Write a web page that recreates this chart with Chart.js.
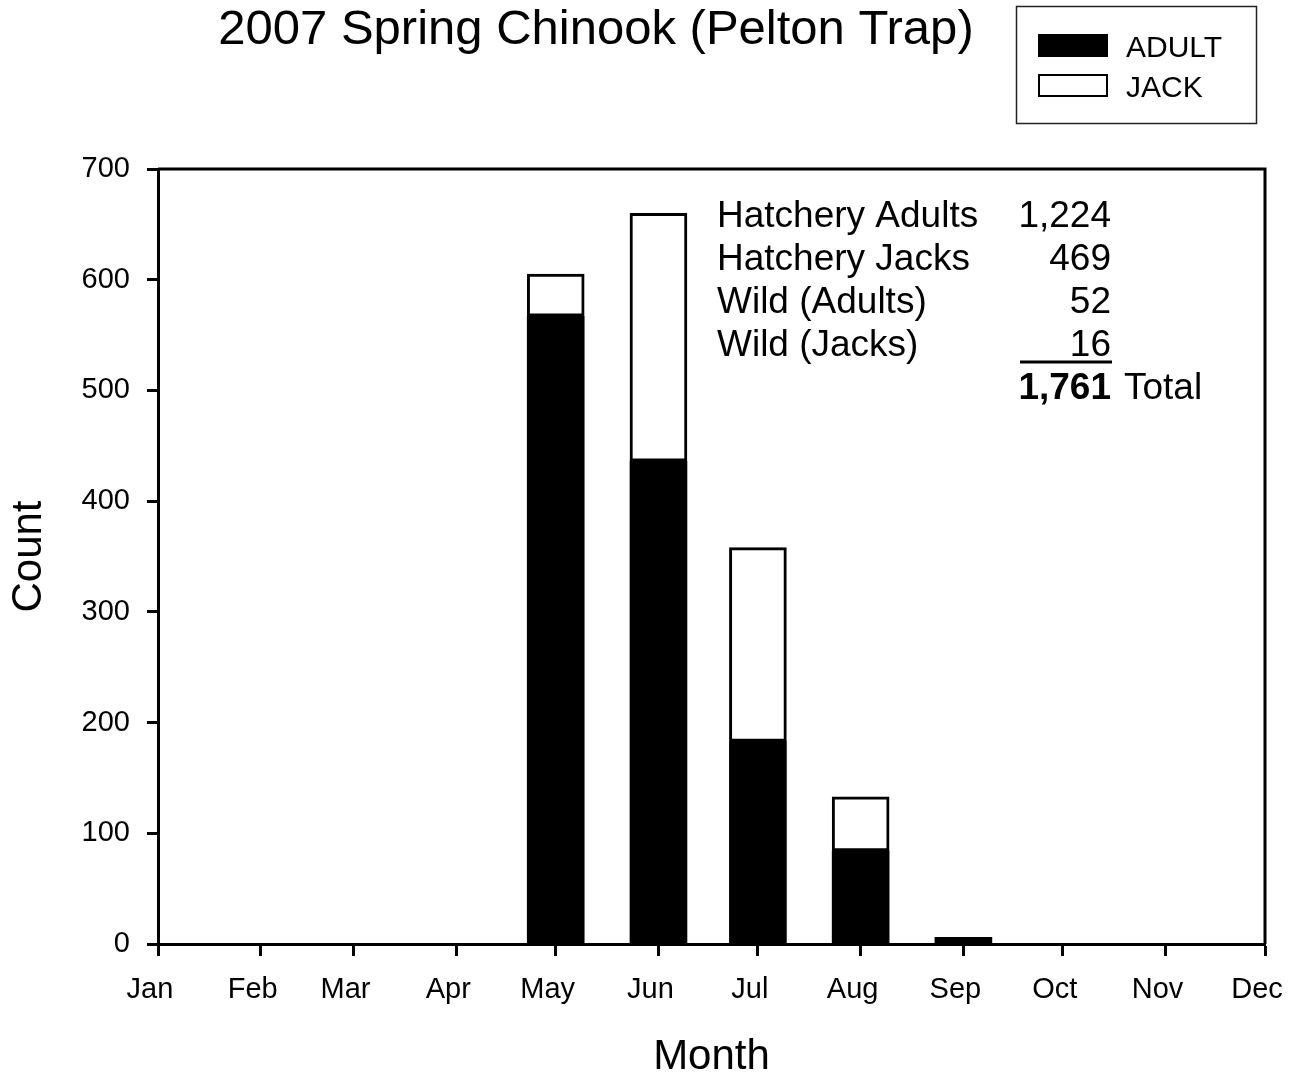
<!DOCTYPE html>
<html>
<head>
<meta charset="utf-8">
<title>2007 Spring Chinook (Pelton Trap)</title>
<script src="https://cdn.jsdelivr.net/npm/chart.js@4/dist/chart.umd.min.js"></script>
<style>
  html, body { margin: 0; padding: 0; background: #fff; }
  #wrap { width: 1301px; height: 1076px; }
</style>
</head>
<body>
<div id="wrap"><canvas id="chart" width="1301" height="1076"></canvas></div>
<script>
// month names and the day of year each month starts on
const months = ["Jan", "Feb", "Mar", "Apr", "May", "Jun", "Jul", "Aug", "Sep", "Oct", "Nov", "Dec"];
const monthStart = [0, 31, 59, 90, 120, 151, 181, 212, 243, 273, 304, 334];

// counts per month
const adults = [0, 0, 0, 0, 567, 436, 183, 84, 6, 0, 0, 0];
const jacks = [0, 0, 0, 0, 38, 224, 175, 49, 0, 0, 0, 0];

const yTicks = [0, 100, 200, 300, 400, 500, 600, 700];

// summary table in the corner
const summaryLabels = ["Hatchery Adults", "Hatchery Jacks", "Wild (Adults)", "Wild (Jacks)"];
const summaryValues = ["1,224", "469", "52", "16"];
const summaryTotal = "1,761";

const FONT = "'Liberation Sans', Arial, Helvetica, sans-serif";

function toPoints(values) {
  return values.map((v, i) => ({ x: monthStart[i], y: v > 0 ? v : null }));
}

const frameAndText = {
  id: "frameAndText",
  afterDraw(chart) {
    const ctx = chart.ctx;
    const a = chart.chartArea;
    ctx.save();

    // box round the plot
    ctx.strokeStyle = "#000";
    ctx.lineWidth = 3;
    ctx.beginPath();
    ctx.moveTo(a.left, a.top);
    ctx.lineTo(a.right, a.top);
    ctx.lineTo(a.right, a.bottom);
    ctx.stroke();

    // title
    ctx.fillStyle = "#000";
    ctx.font = "49px " + FONT;
    ctx.textAlign = "center";
    ctx.textBaseline = "alphabetic";
    ctx.fillText("2007 Spring Chinook (Pelton Trap)", 596, 44);

    // legend
    ctx.lineWidth = 1.5;
    ctx.strokeStyle = "#222";
    ctx.strokeRect(1016.5, 6.5, 240, 117);
    const ds = chart.data.datasets;
    ctx.font = "30px " + FONT;
    ctx.textAlign = "left";
    ds.forEach((d, i) => {
      const y = 34 + i * 40;
      ctx.fillStyle = d.backgroundColor;
      ctx.fillRect(1038, y, 70, 23);
      ctx.lineWidth = 2;
      ctx.strokeStyle = "#000";
      ctx.strokeRect(1039, y + 1, 68, 21);
      ctx.fillStyle = "#000";
      ctx.fillText(d.label, 1126, y + 23);
    });

    // summary numbers
    ctx.font = "37px " + FONT;
    summaryLabels.forEach((t, i) => {
      const y = 227 + i * 43;
      ctx.textAlign = "left";
      ctx.fillText(t, 717, y);
      ctx.textAlign = "right";
      ctx.fillText(summaryValues[i], 1111, y);
    });
    ctx.lineWidth = 3;
    ctx.beginPath();
    ctx.moveTo(1020, 362);
    ctx.lineTo(1112, 362);
    ctx.stroke();
    ctx.font = "bold 37px " + FONT;
    ctx.textAlign = "right";
    ctx.fillText(summaryTotal, 1111, 399);
    ctx.font = "37px " + FONT;
    ctx.textAlign = "left";
    ctx.fillText("Total", 1124, 399);

    ctx.restore();
  }
};

new Chart(document.getElementById("chart"), {
  type: "bar",
  data: {
    datasets: [
      {
        label: "ADULT",
        data: toPoints(adults),
        backgroundColor: "#000",
        borderColor: "#000",
        borderWidth: 0
      },
      {
        label: "JACK",
        data: toPoints(jacks),
        backgroundColor: "#fff",
        borderColor: "#000",
        borderWidth: 3,
        borderSkipped: false
      }
    ]
  },
  options: {
    responsive: false,
    animation: false,
    barThickness: 57,
    layout: { padding: { top: 169, right: 36, left: 0, bottom: 0 } },
    plugins: {
      legend: { display: false },
      title: { display: false },
      tooltip: { enabled: false }
    },
    scales: {
      x: {
        type: "linear",
        stacked: true,
        offset: false,
        min: 0,
        max: 334,
        afterBuildTicks: s => { s.ticks = monthStart.map(v => ({ value: v })); },
        afterFit: s => { s.height = 132; s.paddingLeft = 0; s.paddingRight = 0; },
        ticks: {
          autoSkip: false,
          maxRotation: 0,
          padding: 17,
          labelOffset: -8,
          color: "#000",
          font: { family: FONT, size: 29 },
          callback: v => months[monthStart.indexOf(v)]
        },
        grid: {
          offset: false,
          drawOnChartArea: false,
          drawTicks: true,
          tickLength: 12,
          tickWidth: 3,
          tickColor: "#000"
        },
        border: { display: true, color: "#000", width: 3 },
        title: {
          display: true,
          text: "Month",
          color: "#000",
          font: { family: FONT, size: 42 },
          padding: { top: 0, bottom: -7 }
        }
      },
      y: {
        stacked: true,
        min: 0,
        max: 700,
        afterBuildTicks: s => { s.ticks = yTicks.map(v => ({ value: v })); },
        afterFit: s => { s.width = 158; s.paddingTop = 0; s.paddingBottom = 0; },
        ticks: {
          padding: 17,
          color: "#000",
          font: { family: FONT, size: 29 }
        },
        grid: {
          drawOnChartArea: false,
          drawTicks: true,
          tickLength: 11,
          tickWidth: 3,
          tickColor: "#000"
        },
        border: { display: true, color: "#000", width: 3 },
        title: {
          display: true,
          text: "Count",
          color: "#000",
          font: { family: FONT, size: 42 },
          padding: { top: 4, bottom: 0 }
        }
      }
    }
  },
  plugins: [frameAndText]
});
</script>
</body>
</html>
